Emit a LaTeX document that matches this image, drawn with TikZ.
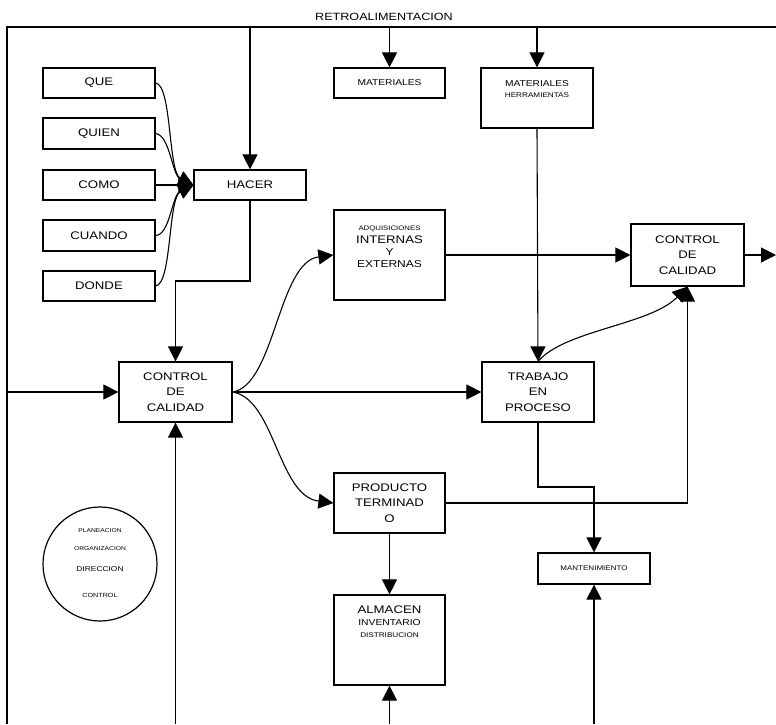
\documentclass[tikz,border=0pt]{standalone}
\usepackage{fontspec}
\setmainfont{Liberation Sans}[FakeStretch=1.2]
\usetikzlibrary{arrows.meta}
\newcommand\myfs[2]{\fontsize{#1}{#2}\selectfont}
\tikzset{
  box/.style={draw, line width=1.2pt, inner sep=1pt, align=center, font=\myfs{11}{15.5}},
  wbox/.style={box, minimum width=112, minimum height=30},
  lbl/.style={inner sep=0, align=center},
  conn/.style={line width=1.1pt},
  arr/.style={conn, -{Triangle[length=15pt,width=15pt]}},
}
\begin{document}
\begin{tikzpicture}[x=1pt,y=-1pt]
\useasboundingbox (0,0) rectangle (776,724);
% frame
\coordinate (tl) at (7,27);
\coordinate (tr) at (776,27);
\coordinate (bl) at (7,724);
\draw[conn] (tr) -- (tl) -- (bl);
\node[lbl, font=\myfs{10.5}{12}] (retro) at (384,17) {RETROALIMENTACION};
% boxes left column
\node[wbox] (que) at (99,83) {QUE};
\node[wbox, minimum height=31] (quien) at (99,133.5) {QUIEN};
\node[wbox] (como) at (99,185) {COMO};
\node[wbox, minimum height=31] (cuando) at (99,235.5) {CUANDO};
\node[wbox] (donde) at (99,286) {DONDE};
\node[wbox] (hacer) at (250,185) {HACER};
% top boxes
\node[wbox, minimum width=111, font=\myfs{8.5}{10}] (mat) at (389.5,83) {MATERIALES};
\node[box, minimum width=112, minimum height=60] (math) at (537,98) {};
\node[lbl] (matht) at (537,89) {\myfs{8.5}{10}MATERIALES\\[-1pt]\myfs{6.8}{8}HERRAMIENTAS};
% middle
\node[box, minimum width=111, minimum height=90] (adq) at (389.5,255) {};
\node[lbl] (adqt) at (389.5,247) {\myfs{6.5}{8}ADQUISICIONES\\[1pt]\myfs{11}{15}INTERNAS\\Y\\EXTERNAS};
\node[box, minimum width=113, minimum height=62] (ccr) at (687.5,255) {CONTROL\\DE\\CALIDAD};
\node[box, minimum width=113, minimum height=60] (ccl) at (175.5,392) {CONTROL\\DE\\CALIDAD};
\node[box, minimum width=112, minimum height=60] (tep) at (538,392) {TRABAJO\\EN\\PROCESO};
\node[box, minimum width=111, minimum height=60] (prod) at (389.5,503) {PRODUCTO\\TERMINAD\\O};
\node[box, minimum width=111, minimum height=90] (alm) at (389.5,640) {};
\node[lbl] (almt) at (389.5,622) {\myfs{11}{10}ALMACEN\\\myfs{8.6}{10}INVENTARIO\\\myfs{6.8}{9}DISTRIBUCION};
\node[wbox, minimum height=31, font=\myfs{6.7}{8}] (mant) at (594,568.5) {MANTENIMIENTO};
% circle
\node[draw, circle, line width=1.2pt, minimum size=114, inner sep=0] (circ) at (100,564) {};
\node[lbl, font=\myfs{5.6}{6}] (pla) at (100,531) {PLANEACION};
\node[lbl, font=\myfs{5.6}{6}] (org) at (100,549) {ORGANIZACION};
\node[lbl, font=\myfs{7}{8}] (dir) at (100,569) {DIRECCION};
\node[lbl, font=\myfs{6}{7}] (ctl) at (100,595) {CONTROL};
% coordinates on the frame / edges
\coordinate (t1) at (250,27);
\coordinate (t2) at (389.5,27);
\coordinate (t3) at (537,27);
\coordinate (lf) at (7,392);
\coordinate (b1) at (175.5,724);
\coordinate (b2) at (389.5,724);
\coordinate (b3) at (594,724);
\coordinate (out) at (776,255);
\coordinate (k1) at (175.5,281);
\coordinate (k2) at (594,487);
% connectors
\draw[arr] (t1) -- (hacer.north);
\draw[arr] (t2) -- (mat.north);
\draw[arr] (t3) -- (math.north);
\draw[arr] (que.east) .. controls (172,85) and (168,172) .. (hacer.west);
\draw[arr] (quien.east) .. controls (170,135) and (172,175) .. (hacer.west);
\draw[arr] (como.east) -- (hacer.west);
\draw[arr] (cuando.east) .. controls (170,235) and (172,195) .. (hacer.west);
\draw[arr] (donde.east) .. controls (172,284) and (168,198) .. (hacer.west);
\draw[arr] (hacer.south) |- (k1) -- (ccl.north);
\draw[arr] (lf) -- (ccl.west);
\draw[arr] (b1) -- (ccl.south);
\draw[arr] (ccl.east) -- (tep.west);
\draw[arr] (ccl.east) .. controls (275,385) and (278,262) .. (adq.west);
\draw[arr] (ccl.east) .. controls (275,399) and (278,496) .. (prod.west);
\draw[arr] (adq.east) -- (ccr.west);
\draw[arr] (ccr.east) -- (out);
\draw[arr] (math.south) -- (tep.north);
\draw[arr] (tep.north) .. controls (565,330) and (650,325) .. (ccr.south);
\draw[arr] (prod.east) -| (ccr.south);
\draw[arr] (tep.south) |- (k2) -- (mant.north);
\draw[arr] (b3) -- (mant.south);
\draw[arr] (prod.south) -- (alm.north);
\draw[arr] (b2) -- (alm.south);
\end{tikzpicture}
\end{document}
